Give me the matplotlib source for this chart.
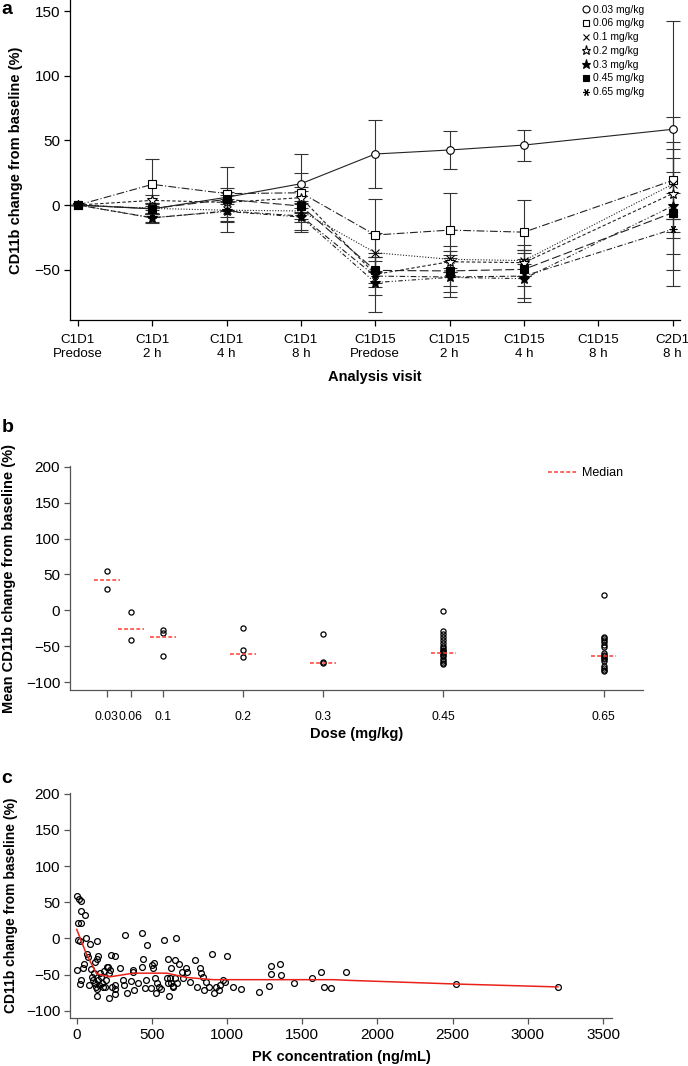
import numpy as np
import matplotlib
matplotlib.use("Agg")
import matplotlib.pyplot as plt
from matplotlib.lines import Line2D

plt.rcParams['font.family'] = ['Liberation Sans', 'DejaVu Sans']

# ---- panel a: CD11b change by visit ----
visits = ["C1D1\nPredose", "C1D1\n2 h", "C1D1\n4 h", "C1D1\n8 h",
          "C1D15\nPredose", "C1D15\n2 h", "C1D15\n4 h", "C1D15\n8 h", "C2D1\n8 h"]
doses_a = ["0.03 mg/kg", "0.06 mg/kg", "0.1 mg/kg", "0.2 mg/kg",
           "0.3 mg/kg", "0.45 mg/kg", "0.65 mg/kg"]
nan = np.nan
mean_003 = [0, -3, 6, 16.5, 39.5, 42.6, 46.4, nan, 58.6]
mean_006 = [0, 16, 8.8, 9.5, -23.2, -19.4, -21, nan, 19]
mean_01 = [0, -2.6, -4, -4.6, -36.9, -42, -43, nan, 16]
mean_02 = [0, 3.6, 2, 5.7, -53.7, -43.9, -44.6, nan, 8.8]
mean_03 = [0, -9.8, -5, -9.3, -60, -56, -57, nan, -0.8]
mean_045 = [0, -2.8, 4.4, -0.8, -50.6, -51, -49.8, nan, -6]
mean_065 = [0, -10, -4.6, -8.5, -55, -55.7, -55, nan, -18.8]
sd_003 = [0, 4, 4, 23, 26, 14.5, 12, nan, 84]
sd_006 = [0, 20, 4, 15, 28, 29, 25, nan, 30]
sd_01 = [0, 4, 5, 6, 15, 10, 12, nan, 27]
sd_02 = [0, 4, 6, 8, 10, 8, 10, nan, 59]
sd_03 = [0, 3, 8, 10, 22.6, 15, 15, nan, 37]
sd_045 = [0, 4, 25, 12, 10, 12, 13, nan, 15]
sd_065 = [0, 4, 8, 12, 15, 12, 20, nan, 44]

# ---- panel b: mean change by dose ----
dose_ticks = [0.03, 0.06, 0.1, 0.2, 0.3, 0.45, 0.65]
dose_labels = ["0.03", "0.06", "0.1", "0.2", "0.3", "0.45", "0.65"]
pts_003 = [54.6, 29.6]
pts_006 = [-2.8, -42]
pts_01 = [-27, -31.5, -63]
pts_02 = [-24, -55.6, -64.8]
pts_03 = [-32.4, -72.2, -73]
pts_045 = [-1.4, -29, -33, -37, -41, -45, -50, -53, -55, -57, -58, -60,
           -62, -64, -68, -71, -73, -75]
pts_065 = [20.8, -37, -39, -41, -44, -48, -51, -59, -62, -64, -66, -68,
           -71, -77, -80, -83, -85]
medians = [41.7, -25.5, -37, -60.2, -72.7, -59, -64.3]

# ---- panel c: change vs PK concentration ----
conc = [2, 13, 29, 27, 58, 9, 29, 11, 24, 62, 2, 27, 24, 42, 51, 71, 78, 89,
        84, 93, 100, 106, 118, 122, 133, 135, 140, 124, 129, 133, 138, 144,
        151, 155, 160, 166, 173, 182, 189, 195, 200, 206, 213, 220, 226, 217,
        233, 255, 255, 255, 255, 288, 306, 322, 315, 333, 361, 377, 373, 381,
        406, 432, 439, 432, 459, 455, 466, 492, 499, 510, 515, 521, 526, 532,
        550, 559, 583, 599, 604, 608, 614, 621, 625, 630, 639, 643, 654, 659,
        656, 665, 683, 703, 710, 727, 732, 754, 787, 798, 821, 827, 843, 849,
        860, 881, 899, 916, 927, 943, 954, 971, 987, 998, 1042, 1091, 1213,
        1282, 1291, 1291, 1353, 1360, 1442, 1568, 1626, 1642, 1693, 1790,
        2522, 3200]
resp = [58, 54, 52, 38, 32, 21, 21, -2, -4, 0, -44, -58, -63, -41, -35, -22,
        -25, -8, -65, -42, -53, -57, -48, -62, -3, -29, -24, -32, -67, -79,
        -70, -58, -64, -48, -53, -62, -67, -45, -67, -58, -39, -39, -48, -43,
        -23, -82, -67, -24, -64, -70, -77, -41, -57, 5, -64, -75, -59, -43,
        -47, -71, -61, 7, -29, -39, -57, -69, -9, -69, -37, -41, -34, -55,
        -76, -62, -67, -70, -2, -55, -62, -29, -79, -55, -41, -62, -67, -66,
        -30, 0, -55, -62, -35, -46, -55, -41, -46, -60, -30, -67, -41, -48,
        -53, -71, -60, -67, -21, -76, -67, -71, -64, -58, -60, -24, -67, -70,
        -74, -66, -38, -49, -36, -51, -61, -55, -46, -67, -69, -47, -63, -67]
smooth_x = [0, 67, 133, 222, 377, 599, 732, 909, 1153, 1708, 1819, 2522, 3200]
smooth_y = [12.4, -23, -49, -53, -48, -48, -54, -57, -57, -57, -58, -63, -67]

fig = plt.figure(figsize=(6.88, 10.66), dpi=100)
ax_a = fig.add_axes([0.1017, 0.6998, 0.8866, 0.3002])
ax_b = fig.add_axes([0.1017, 0.3527, 0.8328, 0.2101])
ax_c = fig.add_axes([0.1017, 0.0450, 0.7878, 0.2111])

YTICK_FS = 11
XLAB_FS = 10.5
neg = lambda v: str(v).replace("-", "\u2212")

# --- panel a ---
series = [
    (mean_003, sd_003, 'o', 'white', '-'),
    (mean_006, sd_006, 's', 'white', (0, (7, 2, 1, 2))),
    (mean_01, sd_01, 'x', 'black', (0, (1, 1.5))),
    (mean_02, sd_02, '*', 'white', (0, (3, 2))),
    (mean_03, sd_03, '*', 'black', (0, (4, 2, 1, 2, 1, 2))),
    (mean_045, sd_045, 's', 'black', (0, (8, 3))),
    (mean_065, sd_065, (6, 2, 90), 'black', (0, (5, 2, 1, 2))),
]
xs = np.arange(len(visits))
handles = []
for (m, s, mk, fc, ls), lab in zip(series, doses_a):
    m = np.array(m, dtype=float)
    s = np.array(s, dtype=float)
    ok = ~np.isnan(m)
    ms = 7 if mk == '*' else 5.5
    ax_a.errorbar(xs[ok], m[ok], yerr=s[ok], fmt='none', ecolor='#333333',
                  elinewidth=0.8, capsize=5, capthick=0.8, zorder=2)
    ax_a.plot(xs[ok], m[ok], color='#222222', lw=0.8, linestyle=ls, zorder=3)
    ax_a.plot(xs[ok], m[ok], linestyle='none', marker=mk, ms=ms,
              mfc=fc, mec='black', mew=0.8, zorder=4)
    handles.append(Line2D([], [], linestyle='none', marker=mk, ms=ms - 0.5,
                          mfc=fc, mec='black', mew=0.8, label=lab))
ax_a.legend(handles=handles, loc='upper right', bbox_to_anchor=(0.952, 1.005),
            frameon=False, fontsize=7.5, handlelength=0.6, handletextpad=0.35,
            labelspacing=0.36, borderaxespad=0.2)
ax_a.set_xlim(-0.108, 8.1)
ax_a.set_ylim(-89, 158.7)
ax_a.set_xticks(xs)
ax_a.set_xticklabels(visits, fontsize=9.6, linespacing=1.25)
ax_a.set_yticks([-50, 0, 50, 100, 150])
ax_a.set_yticklabels([neg(v) for v in [-50, 0, 50, 100, 150]], fontsize=YTICK_FS)
ax_a.set_xlabel("Analysis visit", fontsize=XLAB_FS, fontweight='bold', labelpad=7)
ax_a.set_ylabel("CD11b change from baseline (%)", fontsize=10.5, fontweight='bold')
ax_a.yaxis.set_label_coords(-0.077, 0.5)

# --- panel b ---
groups = [pts_003, pts_006, pts_01, pts_02, pts_03, pts_045, pts_065]
for d, pts in zip(dose_ticks, groups):
    ax_b.plot([d] * len(pts), pts, linestyle='none', marker='o', ms=3.7,
              mfc='none', mec='black', mew=0.9)
for d, med in zip(dose_ticks, medians):
    ax_b.plot([d - 0.016, d + 0.016], [med, med], color='#ff3b30', lw=1.1,
              linestyle=(0, (2.5, 1.5)))
med_handle = Line2D([], [], color='#ff3b30', lw=1.1, linestyle=(0, (2.5, 1.5)),
                    label="Median")
ax_b.legend(handles=[med_handle], loc='upper right', bbox_to_anchor=(0.985, 1.045),
            frameon=False, fontsize=9, handlelength=2.2, handletextpad=0.5)
ax_b.set_xlim(-0.016, 0.699)
ax_b.set_ylim(-111, 201)
ax_b.set_xticks(dose_ticks)
ax_b.set_xticklabels(dose_labels, fontsize=8.8)
ax_b.set_yticks(range(-100, 201, 50))
ax_b.set_yticklabels([neg(v) for v in range(-100, 201, 50)], fontsize=YTICK_FS)
ax_b.set_xlabel("Dose (mg/kg)", fontsize=XLAB_FS, fontweight='bold', labelpad=3)
ax_b.set_ylabel("Mean CD11b change from baseline (%)", fontsize=10.5,
                fontweight='bold')
ax_b.yaxis.set_label_coords(-0.094, 0.5)

# --- panel c ---
ax_c.plot(conc, resp, linestyle='none', marker='o', ms=4.2, mfc='none',
          mec='black', mew=0.9)
ax_c.plot(smooth_x, smooth_y, color='#e8231a', lw=1.1)
ax_c.set_xlim(-45, 3560)
ax_c.set_ylim(-110, 201)
ax_c.set_xticks(np.arange(0, 3501, 500))
ax_c.set_xticklabels([str(v) for v in range(0, 3501, 500)], fontsize=YTICK_FS)
ax_c.set_yticks(range(-100, 201, 50))
ax_c.set_yticklabels([neg(v) for v in range(-100, 201, 50)], fontsize=YTICK_FS)
ax_c.set_xlabel("PK concentration (ng/mL)", fontsize=XLAB_FS, fontweight='bold',
                labelpad=6)
ax_c.set_ylabel("CD11b change from baseline (%)", fontsize=10,
                fontweight='bold')
ax_c.yaxis.set_label_coords(-0.096, 0.5)

for ax, col in [(ax_a, 'black'), (ax_b, '#555555'), (ax_c, '#555555')]:
    ax.spines['top'].set_visible(False)
    ax.spines['right'].set_visible(False)
    for sp in ('left', 'bottom'):
        ax.spines[sp].set_color(col)
        ax.spines[sp].set_linewidth(0.9)
    ax.tick_params(direction='out', length=4, width=0.9, color=col, pad=3)
ax_a.tick_params(axis='x', pad=6)
ax_b.tick_params(axis='x', length=5, pad=10)

fig.text(0.002, 0.999, "a", fontsize=14, fontweight='bold', va='top')
fig.text(0.002, 0.607, "b", fontsize=14, fontweight='bold', va='top')
fig.text(0.002, 0.278, "c", fontsize=14, fontweight='bold', va='top')

fig.savefig("out.png", dpi=100)
